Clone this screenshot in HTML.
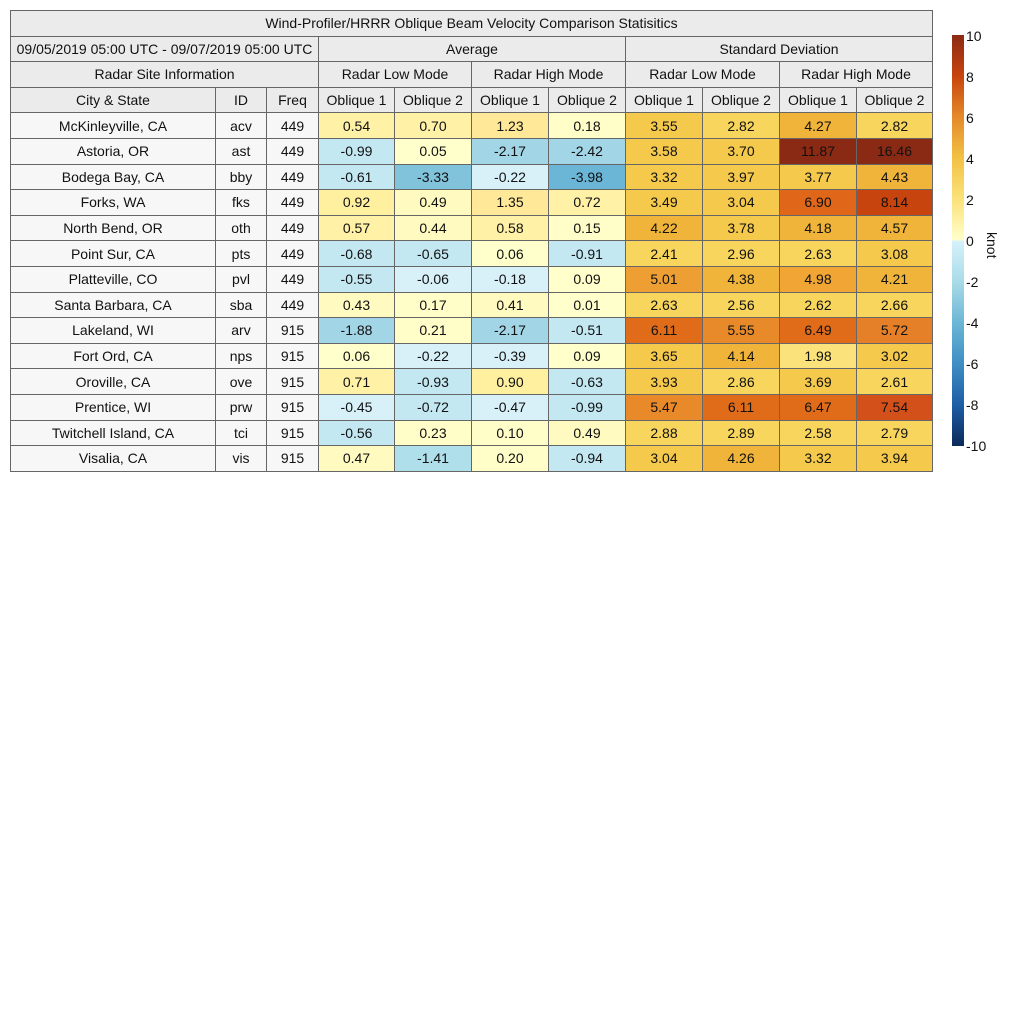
<!DOCTYPE html>
<html><head><meta charset="utf-8"><style>
body{margin:0;width:1024px;height:1024px;background:#fff;font-family:"Liberation Sans",sans-serif;position:relative;overflow:hidden}
table{position:absolute;left:10px;top:10px;width:922px;border-collapse:collapse;table-layout:fixed;font-size:14px;color:#111}
td{border:1px solid #666;height:24.6px;padding:0;text-align:center;white-space:nowrap;overflow:hidden}
.h td,td.h{background:#ebebeb}
td.c{background:#f7f7f7}
.cb{position:absolute;left:952px;top:35px;width:12px;height:411px;background:linear-gradient(to bottom,#8b2a14 0%,#c8440e 10%,#e48a2a 20%,#f2c244 30%,#fbe27a 40%,#ffffcc 50%,#d6f2fa 50%,#a9dbe8 60%,#6cb6d5 70%,#3f8ec4 80%,#1d5ea5 90%,#0b2a5a 100%)}
.t{position:absolute;left:966px;font-size:14px;line-height:14px;color:#111}
.k{position:absolute;left:975px;top:232px;font-size:14px;transform:rotate(90deg);transform-origin:left top;color:#111}
</style></head><body>
<table>
<colgroup><col style="width:205px"><col style="width:51px"><col style="width:52px"><col style="width:76px"><col style="width:77px"><col style="width:77px"><col style="width:77px"><col style="width:77px"><col style="width:77px"><col style="width:77px"><col style="width:76px"></colgroup>
<tr class="h"><td colspan="11">Wind-Profiler/HRRR Oblique Beam Velocity Comparison Statisitics</td></tr>
<tr class="h"><td colspan="3">09/05/2019 05:00 UTC - 09/07/2019 05:00 UTC</td><td colspan="4">Average</td><td colspan="4">Standard Deviation</td></tr>
<tr class="h"><td colspan="3">Radar Site Information</td><td colspan="2">Radar Low Mode</td><td colspan="2">Radar High Mode</td><td colspan="2">Radar Low Mode</td><td colspan="2">Radar High Mode</td></tr>
<tr class="h"><td>City &amp; State</td><td>ID</td><td>Freq</td><td>Oblique 1</td><td>Oblique 2</td><td>Oblique 1</td><td>Oblique 2</td><td>Oblique 1</td><td>Oblique 2</td><td>Oblique 1</td><td>Oblique 2</td></tr>
<tr><td class="c">McKinleyville, CA</td><td class="c">acv</td><td class="c">449</td><td style="background:#fff1a6">0.54</td><td style="background:#fff1a6">0.70</td><td style="background:#ffe897">1.23</td><td style="background:#fffdc8">0.18</td><td style="background:#f5c94c">3.55</td><td style="background:#f8d55c">2.82</td><td style="background:#f0b43a">4.27</td><td style="background:#f8d55c">2.82</td></tr>
<tr><td class="c">Astoria, OR</td><td class="c">ast</td><td class="c">449</td><td style="background:#c4e8f2">-0.99</td><td style="background:#ffffcc">0.05</td><td style="background:#a2d5e5">-2.17</td><td style="background:#a2d5e5">-2.42</td><td style="background:#f5c94c">3.58</td><td style="background:#f5c94c">3.70</td><td style="background:#8b2a14">11.87</td><td style="background:#8b2a14">16.46</td></tr>
<tr><td class="c">Bodega Bay, CA</td><td class="c">bby</td><td class="c">449</td><td style="background:#c4e8f2">-0.61</td><td style="background:#80c3db">-3.33</td><td style="background:#d8f1f9">-0.22</td><td style="background:#6bb5d6">-3.98</td><td style="background:#f5c94c">3.32</td><td style="background:#f5c94c">3.97</td><td style="background:#f5c94c">3.77</td><td style="background:#f0b43a">4.43</td></tr>
<tr><td class="c">Forks, WA</td><td class="c">fks</td><td class="c">449</td><td style="background:#fff0a0">0.92</td><td style="background:#fffbc0">0.49</td><td style="background:#ffe897">1.35</td><td style="background:#fff1a6">0.72</td><td style="background:#f5c94c">3.49</td><td style="background:#f5c94c">3.04</td><td style="background:#e0661a">6.90</td><td style="background:#c8440e">8.14</td></tr>
<tr><td class="c">North Bend, OR</td><td class="c">oth</td><td class="c">449</td><td style="background:#fff1a6">0.57</td><td style="background:#fffbc0">0.44</td><td style="background:#fff1a6">0.58</td><td style="background:#fffdc8">0.15</td><td style="background:#f0b43a">4.22</td><td style="background:#f5c94c">3.78</td><td style="background:#f0b43a">4.18</td><td style="background:#f0b43a">4.57</td></tr>
<tr><td class="c">Point Sur, CA</td><td class="c">pts</td><td class="c">449</td><td style="background:#c4e8f2">-0.68</td><td style="background:#c4e8f2">-0.65</td><td style="background:#ffffcc">0.06</td><td style="background:#c4e8f2">-0.91</td><td style="background:#f8d55c">2.41</td><td style="background:#f8d55c">2.96</td><td style="background:#f8d55c">2.63</td><td style="background:#f5c94c">3.08</td></tr>
<tr><td class="c">Platteville, CO</td><td class="c">pvl</td><td class="c">449</td><td style="background:#c4e8f2">-0.55</td><td style="background:#d8f1f9">-0.06</td><td style="background:#d8f1f9">-0.18</td><td style="background:#ffffcc">0.09</td><td style="background:#ee9f33">5.01</td><td style="background:#f0b43a">4.38</td><td style="background:#f0a535">4.98</td><td style="background:#f0b43a">4.21</td></tr>
<tr><td class="c">Santa Barbara, CA</td><td class="c">sba</td><td class="c">449</td><td style="background:#fffbc0">0.43</td><td style="background:#fffdc8">0.17</td><td style="background:#fffbc0">0.41</td><td style="background:#ffffcc">0.01</td><td style="background:#f8d55c">2.63</td><td style="background:#f8d55c">2.56</td><td style="background:#f8d55c">2.62</td><td style="background:#f8d55c">2.66</td></tr>
<tr><td class="c">Lakeland, WI</td><td class="c">arv</td><td class="c">915</td><td style="background:#a2d5e5">-1.88</td><td style="background:#fffdc8">0.21</td><td style="background:#a2d5e5">-2.17</td><td style="background:#c4e8f2">-0.51</td><td style="background:#e06c1a">6.11</td><td style="background:#e98a2a">5.55</td><td style="background:#e06c1a">6.49</td><td style="background:#e58028">5.72</td></tr>
<tr><td class="c">Fort Ord, CA</td><td class="c">nps</td><td class="c">915</td><td style="background:#ffffcc">0.06</td><td style="background:#d8f1f9">-0.22</td><td style="background:#d8f1f9">-0.39</td><td style="background:#ffffcc">0.09</td><td style="background:#f5c94c">3.65</td><td style="background:#f0b43a">4.14</td><td style="background:#fbe27a">1.98</td><td style="background:#f5c94c">3.02</td></tr>
<tr><td class="c">Oroville, CA</td><td class="c">ove</td><td class="c">915</td><td style="background:#fff1a6">0.71</td><td style="background:#c4e8f2">-0.93</td><td style="background:#fff0a0">0.90</td><td style="background:#c4e8f2">-0.63</td><td style="background:#f5c94c">3.93</td><td style="background:#f8d55c">2.86</td><td style="background:#f5c94c">3.69</td><td style="background:#f8d55c">2.61</td></tr>
<tr><td class="c">Prentice, WI</td><td class="c">prw</td><td class="c">915</td><td style="background:#d8f1f9">-0.45</td><td style="background:#c4e8f2">-0.72</td><td style="background:#d8f1f9">-0.47</td><td style="background:#c4e8f2">-0.99</td><td style="background:#e98a2a">5.47</td><td style="background:#e06c1a">6.11</td><td style="background:#e06c1a">6.47</td><td style="background:#d4501a">7.54</td></tr>
<tr><td class="c">Twitchell Island, CA</td><td class="c">tci</td><td class="c">915</td><td style="background:#c4e8f2">-0.56</td><td style="background:#fffdc8">0.23</td><td style="background:#fffdc8">0.10</td><td style="background:#fffbc0">0.49</td><td style="background:#f8d55c">2.88</td><td style="background:#f8d55c">2.89</td><td style="background:#f8d55c">2.58</td><td style="background:#f8d55c">2.79</td></tr>
<tr><td class="c">Visalia, CA</td><td class="c">vis</td><td class="c">915</td><td style="background:#fffbc0">0.47</td><td style="background:#b0dfec">-1.41</td><td style="background:#fffdc8">0.20</td><td style="background:#c4e8f2">-0.94</td><td style="background:#f5c94c">3.04</td><td style="background:#f0b43a">4.26</td><td style="background:#f5c94c">3.32</td><td style="background:#f5c94c">3.94</td></tr>
</table>
<div class="cb"></div>
<div class="t" style="top:29px">10</div>
<div class="t" style="top:70px">8</div>
<div class="t" style="top:111px">6</div>
<div class="t" style="top:152px">4</div>
<div class="t" style="top:193px">2</div>
<div class="t" style="top:234px">0</div>
<div class="t" style="top:275px">-2</div>
<div class="t" style="top:316px">-4</div>
<div class="t" style="top:357px">-6</div>
<div class="t" style="top:398px">-8</div>
<div class="t" style="top:439px">-10</div>
<div class="k" style="left:1000px">knot</div>
</body></html>
